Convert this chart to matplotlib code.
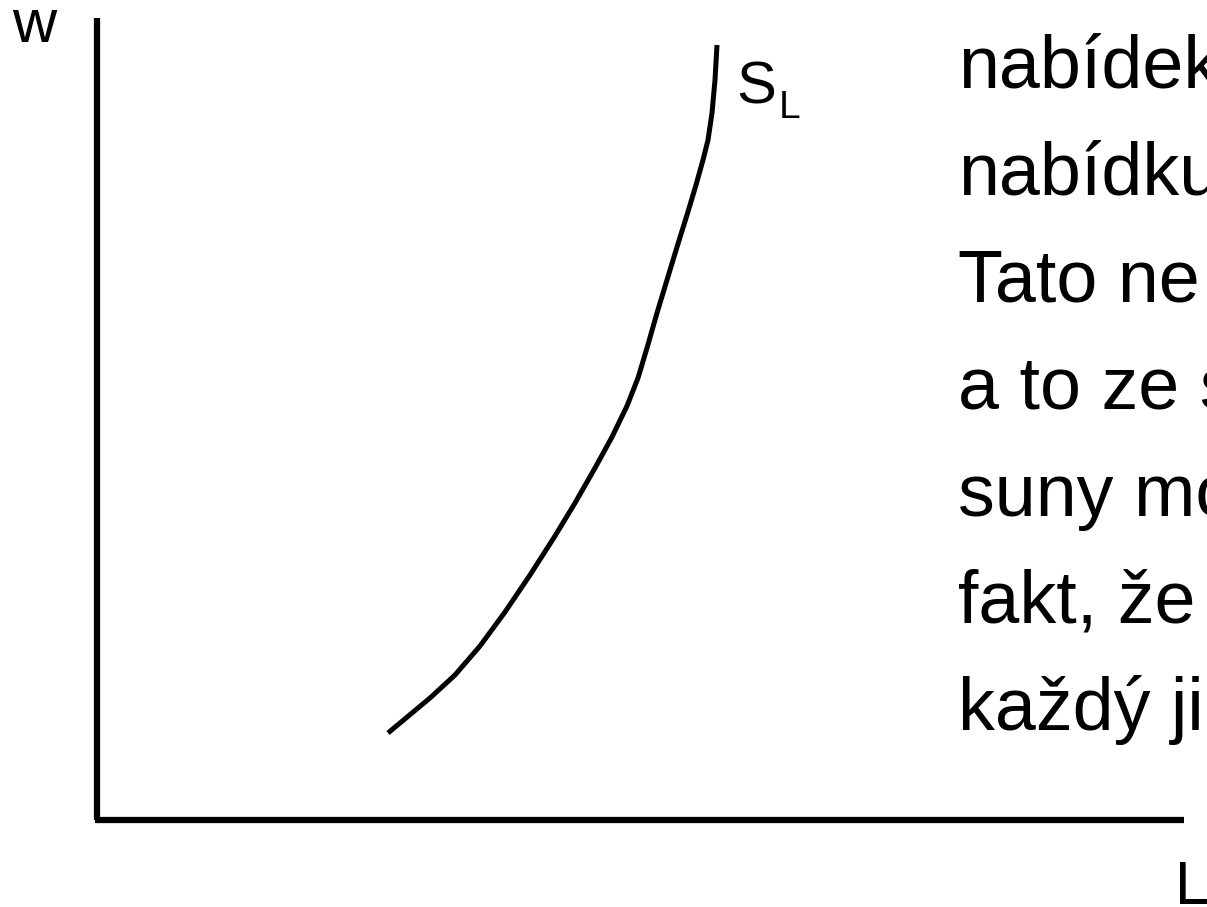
import matplotlib
matplotlib.use("Agg")
import matplotlib.pyplot as plt

plt.rcParams['font.family'] = ['Liberation Sans', 'DejaVu Sans']

# supply curve S_L (pixel space, y grows downward)
curve_L = [388, 406, 430, 455, 480, 505, 530, 555, 575, 595, 612, 627,
           638, 647, 657, 667, 677, 687, 696, 703, 708, 712, 715, 717]
curve_w = [733, 718, 698, 675, 646, 612, 575, 536, 503, 468, 437, 406,
           378, 348, 313, 280, 247, 215, 185, 160, 140, 113, 80, 45]

# axes of the diagram
axis_origin = (97, 820)
axis_top = 18
axis_right = 1184

# text on the right (cut off by the slide edge)
text_lines = ["nabídek", "nabídku", "Tato ne", "a to ze s",
              "suny mo", "fakt, že", "každý ji"]

fig = plt.figure(figsize=(12.07, 9.07), dpi=100)
ax = fig.add_axes([0, 0, 1, 1])
ax.set_xlim(0, 1207)
ax.set_ylim(907, 0)
ax.axis('off')

# axes lines
ax.plot([axis_origin[0], axis_origin[0]], [axis_top, axis_origin[1]],
        color='black', lw=4.5, solid_capstyle='butt')
ax.plot([axis_origin[0] - 2, axis_right], [axis_origin[1], axis_origin[1]],
        color='black', lw=4.5, solid_capstyle='butt')

# supply curve
ax.plot(curve_L, curve_w, color='black', lw=3.6, solid_capstyle='butt',
        solid_joinstyle='round')

# labels
ax.text(12, 42, 'w', fontsize=44, va='baseline', ha='left')
ax.text(1175, 904, 'L', fontsize=44, va='baseline', ha='left')
ax.text(736, 103, 'S', fontsize=43, va='baseline', ha='left')
ax.text(779, 118, 'L', fontsize=28, va='baseline', ha='left')

y0 = 87
for i, line in enumerate(text_lines):
    ax.text(958, y0 + i * 107.2, line, fontsize=53, va='baseline', ha='left')

fig.savefig('out.png', dpi=100)
